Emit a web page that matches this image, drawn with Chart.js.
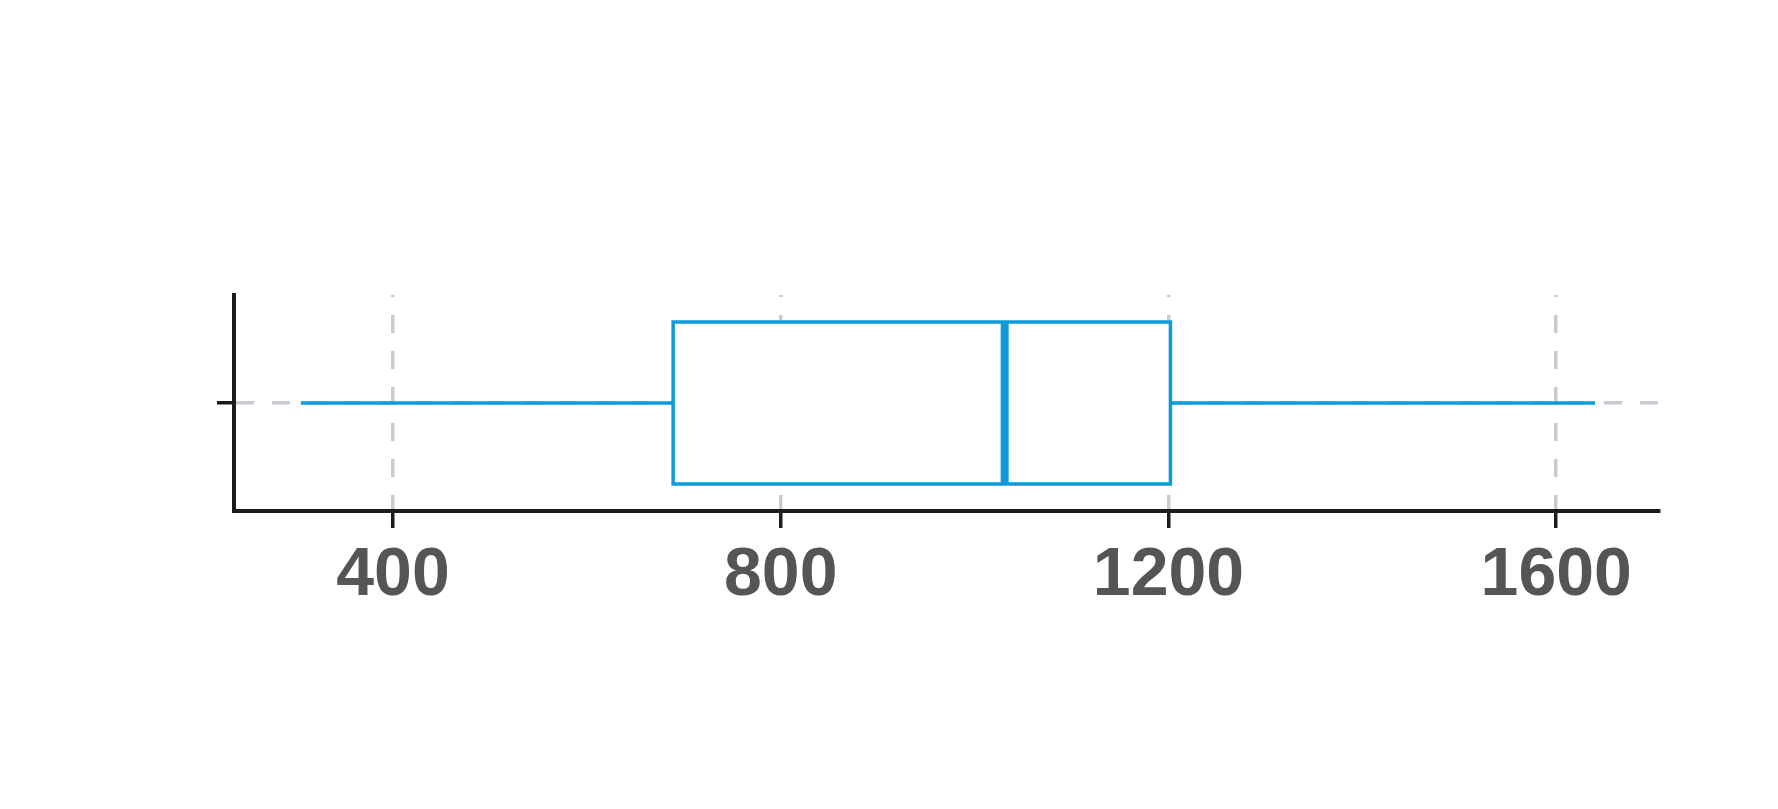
<!DOCTYPE html>
<html><head><meta charset="utf-8">
<script src="https://cdn.jsdelivr.net/npm/chart.js@4/dist/chart.umd.min.js"></script>
<style>html,body{margin:0;padding:0;background:#fff}canvas{display:block}</style>
</head><body>
<canvas id="c" width="1778" height="809"></canvas>
<script>
// ---- data ----
const categories = ['Series'];
const lowerWhisker = [305];
const firstQuartile = [689];
const medians = [1031];
const thirdQuartile = [1202];
const upperWhisker = [1640];
const xTickValues = [400, 800, 1200, 1600];
const xLimits = [236, 1706];

// ---- styles ----
const BLUE = '#0d9bdb';
const GRID = '#c9c9d3';
const AXIS = '#1c1c1c';
const LABEL = '#555555';
const CENTER = 0.5;   // category position on the hidden y scale
const HALF = 0.375;   // half box height in y units

const k = 0;
const lineBase = { pointRadius: 0, pointHoverRadius: 0, tension: 0, borderColor: BLUE, fill: false,
  borderCapStyle: 'butt', borderJoinStyle: 'miter' };

const datasets = [
  Object.assign({}, lineBase, { label: categories[k] + ' median', borderWidth: 8,
    data: [{x: medians[k], y: CENTER - HALF}, {x: medians[k], y: CENTER + HALF}] }),
  Object.assign({}, lineBase, { label: categories[k] + ' box', borderWidth: 3.5, fill: 'shape',
    backgroundColor: '#ffffff', borderCapStyle: 'square',
    data: [
      {x: firstQuartile[k], y: CENTER - HALF}, {x: thirdQuartile[k], y: CENTER - HALF},
      {x: thirdQuartile[k], y: CENTER + HALF}, {x: firstQuartile[k], y: CENTER + HALF},
      {x: firstQuartile[k], y: CENTER - HALF}] }),
  Object.assign({}, lineBase, { label: categories[k] + ' lower whisker', borderWidth: 3.5,
    data: [{x: lowerWhisker[k], y: CENTER}, {x: firstQuartile[k], y: CENTER}] }),
  Object.assign({}, lineBase, { label: categories[k] + ' upper whisker', borderWidth: 3.5,
    data: [{x: thirdQuartile[k], y: CENTER}, {x: upperWhisker[k], y: CENTER}] })
];

new Chart(document.getElementById('c'), {
  type: 'line',
  data: { datasets },
  options: {
    responsive: false,
    animation: false,
    devicePixelRatio: 1,
    layout: { padding: { top: 295, right: 119, left: 217, bottom: 0 } },
    plugins: { legend: { display: false }, tooltip: { enabled: false } },
    scales: {
      x: {
        type: 'linear', min: xLimits[0], max: xLimits[1],
        afterBuildTicks: s => { s.ticks = xTickValues.map(v => ({ value: v })); },
        afterFit: s => { s.height = 298; },
        grid: { color: GRID, lineWidth: 3.5, tickLength: 17, tickColor: AXIS, tickWidth: 3.5 },
        border: { display: true, color: AXIS, width: 4, dash: [18, 18], dashOffset: 16 },
        ticks: { color: LABEL, padding: 7, maxRotation: 0, autoSkip: false,
          font: { family: 'Liberation Sans', size: 68, weight: 'bold' },
          callback: v => String(v) }
      },
      y: {
        type: 'linear', min: 0, max: 1,
        afterBuildTicks: s => { s.ticks = [{ value: CENTER }]; },
        afterFit: s => { s.width = 17; },
        grid: { color: GRID, lineWidth: 3.5, tickLength: 17, tickColor: AXIS, tickWidth: 3.5 },
        border: { display: true, color: AXIS, width: 4, dash: [18, 18], dashOffset: 0 },
        ticks: { display: false }
      }
    }
  }
});
</script>
</body></html>
